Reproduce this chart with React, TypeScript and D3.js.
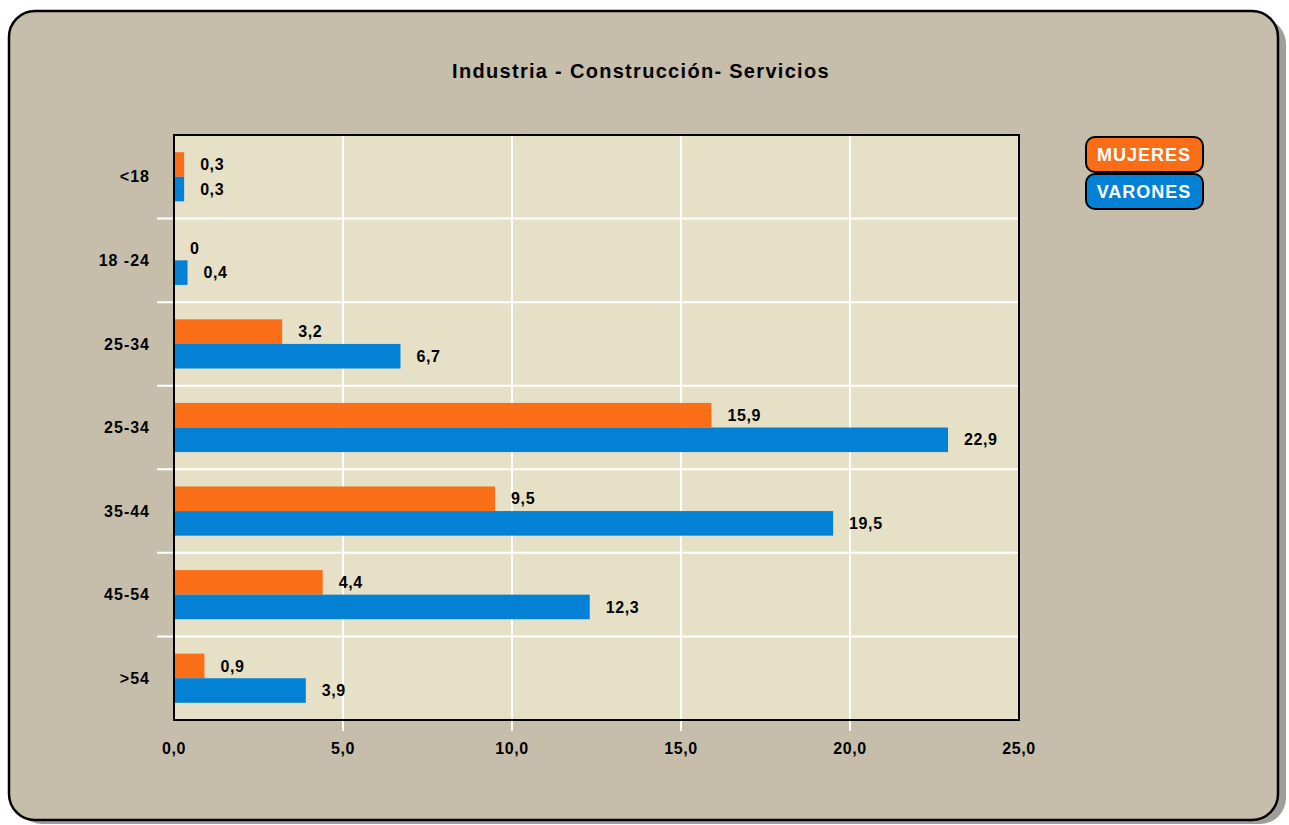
import React from "react";
import * as d3 from "d3";

const categories = ["<18", "18 -24", "25-34", "25-34", "35-44", "45-54", ">54"];
const mujeres = [0.3, 0, 3.2, 15.9, 9.5, 4.4, 0.9];
const varones = [0.3, 0.4, 6.7, 22.9, 19.5, 12.3, 3.9];
const xTicks = [0, 5, 10, 15, 20, 25];
const seriesNames = ["MUJERES", "VARONES"];
const title = "Industria - Construcción- Servicios";

const W = 1289;
const H = 825;
const plot = { left: 174, right: 1019, top: 135, bottom: 720 };
const ORANGE = "#FA6E18";
const BLUE = "#0382D5";
const BG = "#C6BEAB";
const PLOTBG = "#E6E0C6";
const FONT = "Arial, 'Liberation Sans', sans-serif";

const fmt = (v: number) => (v === 0 ? "0" : v.toFixed(1).replace(".", ","));

export default function App() {
  const x = d3.scaleLinear().domain([0, 25]).range([plot.left, plot.right]);
  const y = d3
    .scaleBand<string>()
    .domain(categories.map((_, i) => String(i)))
    .range([plot.top, plot.bottom])
    .paddingInner(0)
    .paddingOuter(0);
  const inner = d3
    .scaleBand<string>()
    .domain(["m", "v"])
    .range([0, y.bandwidth()])
    .paddingOuter(0.7)
    .paddingInner(0);

  const bw = inner.bandwidth();

  return (
    <svg
      width={W}
      height={H}
      style={{ position: "absolute", left: 0, top: 0, fontFamily: FONT }}
    >
      <rect x={0} y={0} width={W} height={H} fill="#ffffff" />
      {/* shadow */}
      <rect x={16} y={18} width={1270} height={806} rx={26} fill="#A09E9A" />
      <rect
        x={9}
        y={11}
        width={1269}
        height={809}
        rx={26}
        fill={BG}
        stroke="#000"
        strokeWidth={2.5}
      />
      <text
        x={641}
        y={71}
        dy="0.35em"
        textAnchor="middle"
        fontSize={20}
        letterSpacing={1.3}
        fontWeight="bold"
        fill="#000"
      >
        {title}
      </text>

      {/* plot background */}
      <rect
        x={plot.left}
        y={plot.top}
        width={plot.right - plot.left}
        height={plot.bottom - plot.top}
        fill={PLOTBG}
      />

      {/* vertical grid */}
      {xTicks.slice(1, -1).map((t) => (
        <line
          key={"g" + t}
          x1={x(t)}
          x2={x(t)}
          y1={plot.top}
          y2={plot.bottom + 11}
          stroke="#fff"
          strokeWidth={2}
        />
      ))}
      {/* horizontal separators */}
      {categories.slice(1).map((_, i) => {
        const yy = y(String(i + 1))!;
        return (
          <line
            key={"h" + i}
            x1={157}
            x2={plot.right}
            y1={yy}
            y2={yy}
            stroke="#fff"
            strokeWidth={2}
          />
        );
      })}

      {/* bars */}
      {categories.map((c, i) => {
        const y0 = y(String(i))!;
        const ym = y0 + inner("m")!;
        const yv = y0 + inner("v")!;
        return (
          <g key={"b" + i}>
            {mujeres[i] > 0 && (
              <rect
                x={x(0)}
                y={ym}
                width={x(mujeres[i]) - x(0)}
                height={bw}
                fill={ORANGE}
              />
            )}
            {varones[i] > 0 && (
              <rect
                x={x(0)}
                y={yv}
                width={x(varones[i]) - x(0)}
                height={bw}
                fill={BLUE}
              />
            )}
            <text
              x={x(mujeres[i]) + 16}
              y={ym + bw / 2}
              dy="0.35em"
              fontSize={16}
              letterSpacing={0.6}
              fontWeight="bold"
              fill="#000"
            >
              {fmt(mujeres[i])}
            </text>
            <text
              x={x(varones[i]) + 16}
              y={yv + bw / 2}
              dy="0.35em"
              fontSize={16}
              letterSpacing={0.6}
              fontWeight="bold"
              fill="#000"
            >
              {fmt(varones[i])}
            </text>
            <text
              x={150}
              y={y0 + y.bandwidth() / 2}
              dy="0.35em"
              textAnchor="end"
              fontSize={16}
              letterSpacing={1}
              fontWeight="bold"
              fill="#000"
            >
              {c}
            </text>
          </g>
        );
      })}

      {/* plot border */}
      <rect
        x={plot.left}
        y={plot.top}
        width={plot.right - plot.left}
        height={plot.bottom - plot.top}
        fill="none"
        stroke="#000"
        strokeWidth={2}
      />

      {/* x tick labels */}
      {xTicks.map((t) => (
        <text
          key={"t" + t}
          x={x(t)}
          y={748}
          dy="0.35em"
          textAnchor="middle"
          fontSize={16}
          letterSpacing={0.6}
          fontWeight="bold"
          fill="#000"
        >
          {t.toFixed(1).replace(".", ",")}
        </text>
      ))}

      {/* legend */}
      {seriesNames.map((s, i) => {
        const ly = 137 + i * 37;
        return (
          <g key={"l" + s}>
            <rect
              x={1086}
              y={ly}
              width={117}
              height={35}
              rx={9}
              fill={i === 0 ? ORANGE : BLUE}
              stroke="#000"
              strokeWidth={2}
            />
            <text
              x={1144}
              y={ly + 17.5}
              dy="0.35em"
              textAnchor="middle"
              fontSize={18}
              letterSpacing={1}
              fontWeight="bold"
              fill="#fff"
            >
              {s}
            </text>
          </g>
        );
      })}
    </svg>
  );
}
